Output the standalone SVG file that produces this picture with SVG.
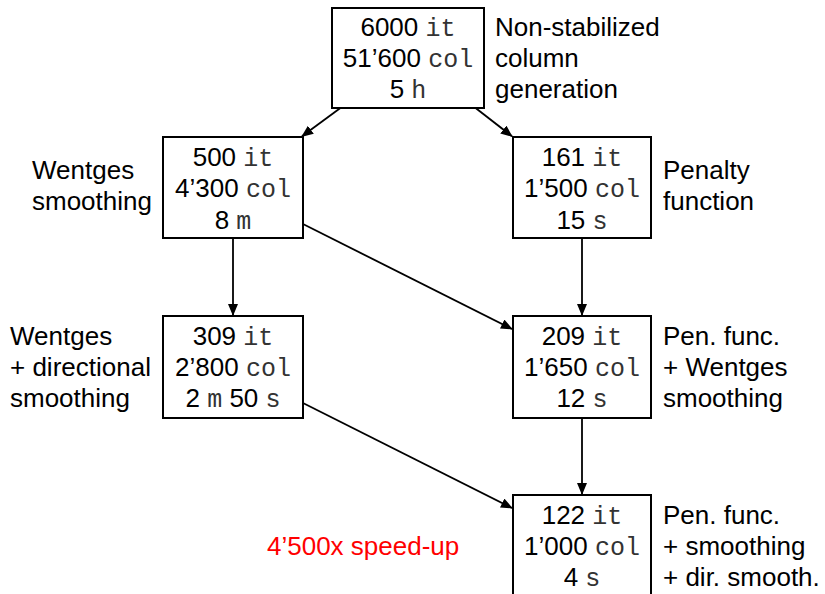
<svg xmlns="http://www.w3.org/2000/svg" width="825" height="594" viewBox="0 0 825 594">
<style>
.box{fill:#fff;stroke:#000;stroke-width:2}
.t{font-family:"Liberation Sans",Arial,sans-serif;font-size:26px;fill:#000}
.c{text-anchor:middle}
.m{font-family:"Liberation Mono","Courier New",monospace;font-size:25px;fill:#333}
.e{stroke:#000;stroke-width:1.8;fill:none;marker-end:url(#ah)}
.r{fill:#ff0000}
</style>
<defs>
<marker id="ah" viewBox="0 0 12 10" refX="11" refY="5" markerWidth="12" markerHeight="10" markerUnits="userSpaceOnUse" orient="auto">
<path d="M0,0 L12,5 L0,10 Z" fill="#000"/>
</marker>
</defs>
<rect width="825" height="594" fill="#fff"/>
<g id="connectors">
<line class="e" x1="340.4" y1="108" x2="302" y2="136.3"/>
<line class="e" x1="475.6" y1="108" x2="512" y2="136.3"/>
<line class="e" x1="233" y1="238" x2="233" y2="315"/>
<line class="e" x1="303" y1="224" x2="512" y2="329"/>
<line class="e" x1="582" y1="238" x2="582" y2="315"/>
<line class="e" x1="303" y1="403" x2="512" y2="508"/>
<line class="e" x1="582" y1="418" x2="582" y2="494"/>
</g>
<g id="n1">
<rect class="box" x="332" y="8" width="152" height="100"/>
<text class="t c" x="408" y="36">6000 <tspan class="m">it</tspan></text>
<text class="t c" x="408" y="67">51’600 <tspan class="m">col</tspan></text>
<text class="t c" x="408" y="98">5 <tspan class="m">h</tspan></text>
<text class="t" x="495" y="36">Non-stabilized</text>
<text class="t" x="495" y="67">column</text>
<text class="t" x="495" y="98">generation</text>
</g>
<g id="n2">
<rect class="box" x="163" y="137" width="140" height="101"/>
<text class="t c" x="233" y="166">500 <tspan class="m">it</tspan></text>
<text class="t c" x="233" y="197">4’300 <tspan class="m">col</tspan></text>
<text class="t c" x="233" y="229">8 <tspan class="m">m</tspan></text>
<text class="t" x="32" y="179">Wentges</text>
<text class="t" x="32" y="210">smoothing</text>
</g>
<g id="n3">
<rect class="box" x="513" y="137" width="138" height="101"/>
<text class="t c" x="582" y="166">161 <tspan class="m">it</tspan></text>
<text class="t c" x="582" y="197">1’500 <tspan class="m">col</tspan></text>
<text class="t c" x="582" y="229">15 <tspan class="m">s</tspan></text>
<text class="t" x="663" y="179">Penalty</text>
<text class="t" x="663" y="210">function</text>
</g>
<g id="n4">
<rect class="box" x="163" y="316" width="140" height="102"/>
<text class="t c" x="233" y="345">309 <tspan class="m">it</tspan></text>
<text class="t c" x="233" y="376">2’800 <tspan class="m">col</tspan></text>
<text class="t c" x="233" y="407">2 <tspan class="m">m</tspan> 50 <tspan class="m">s</tspan></text>
<text class="t" x="10" y="345">Wentges</text>
<text class="t" x="10" y="376">+ directional</text>
<text class="t" x="10" y="407">smoothing</text>
</g>
<g id="n5">
<rect class="box" x="513" y="316" width="138" height="102"/>
<text class="t c" x="582" y="345">209 <tspan class="m">it</tspan></text>
<text class="t c" x="582" y="376">1’650 <tspan class="m">col</tspan></text>
<text class="t c" x="582" y="407">12 <tspan class="m">s</tspan></text>
<text class="t" x="663" y="345">Pen. func.</text>
<text class="t" x="663" y="376">+ Wentges</text>
<text class="t" x="663" y="407">smoothing</text>
</g>
<g id="n6">
<rect class="box" x="513" y="495" width="138" height="102"/>
<text class="t c" x="582" y="524">122 <tspan class="m">it</tspan></text>
<text class="t c" x="582" y="555">1’000 <tspan class="m">col</tspan></text>
<text class="t c" x="582" y="586">4 <tspan class="m">s</tspan></text>
<text class="t" x="663" y="524">Pen. func.</text>
<text class="t" x="663" y="555">+ smoothing</text>
<text class="t" x="663" y="586">+ dir. smooth.</text>
</g>
<g id="speedup">
<text class="t r" x="267" y="555">4’500x speed-up</text>
</g>
</svg>
